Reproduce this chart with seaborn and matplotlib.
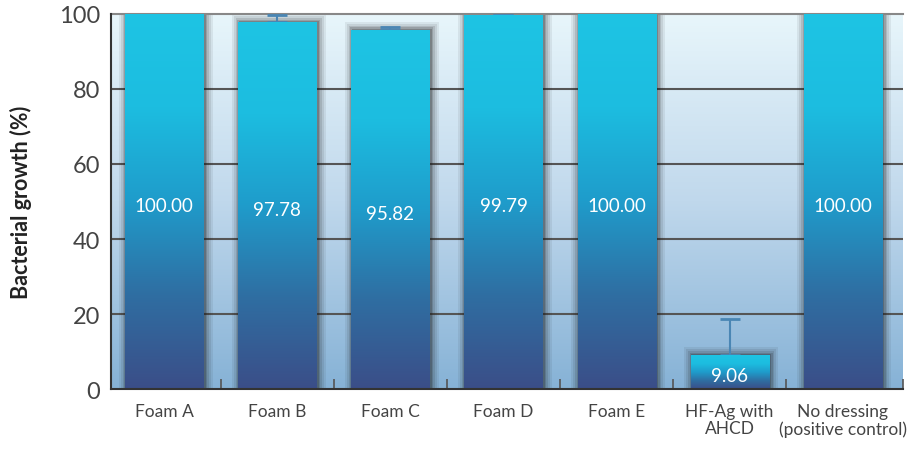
import numpy as np
import pandas as pd
import matplotlib
matplotlib.use("Agg")
import matplotlib.pyplot as plt
import seaborn as sns
from matplotlib.colors import LinearSegmentedColormap
from matplotlib.patches import Rectangle

categories = ["Foam A", "Foam B", "Foam C", "Foam D", "Foam E",
              "HF-Ag with\nAHCD", "No dressing\n(positive control)"]
values = [100.00, 97.78, 95.82, 99.79, 100.00, 9.06, 100.00]
errors = [0.0, 2.0, 0.8, 0.2, 0.0, 9.6, 0.0]
value_labels = ["100.00", "97.78", "95.82", "99.79", "100.00", "9.06", "100.00"]
yticks = [0, 20, 40, 60, 80, 100]
gridlevels = [20, 40, 60, 80]

sns.set_theme(style="white")
plt.rcParams['font.family'] = ['Lato', 'DejaVu Sans']

df = pd.DataFrame({"cat": categories, "val": values})

fig = plt.figure(figsize=(9.10, 4.52), dpi=100)
ax = fig.add_axes([0.122, 0.137, 0.870, 0.830])

sns.barplot(data=df, x="cat", y="val", ax=ax, width=0.69, errorbar=None,
            color="#1ec4e4", zorder=3)

XL, XR = -0.47, 6.53
ax.set_xlim(XL, XR)
ax.set_ylim(0, 100)

# background gradient
bg = LinearSegmentedColormap.from_list("bg", ["#86b2d6", "#c0d8ec", "#e8f6fb"])
grad = np.linspace(0, 1, 256).reshape(-1, 1)
ax.imshow(grad, cmap=bg, origin="lower", aspect="auto", interpolation="bilinear",
          extent=[0, 1, 0, 1], transform=ax.transAxes, zorder=0)

# bar gradient + soft shadow
barcm = LinearSegmentedColormap.from_list(
    "bar", ["#3b4e88", "#2f6ea2", "#1f9ccb", "#1cbde0", "#1ec4e4"])
px_x = 7.0 / (0.870 * 910)   # one pixel in x data units
px_y = 100.0 / (0.830 * 452)  # one pixel in y data units
bars = []
for p in ax.patches:
    x0, y0 = p.get_x(), p.get_y()
    w, h = p.get_width(), p.get_height()
    bars.append((x0, x0 + w, h))
    sx = 1.5 * px_x
    for k, a in [(8, 0.07), (6, 0.09), (4, 0.12), (2.5, 0.16), (1, 0.22)]:
        ax.add_patch(Rectangle((x0 - k * px_x + sx, y0), w + 2 * k * px_x,
                               h + k * px_y, facecolor="#1a1a1a", alpha=a,
                               edgecolor="none", zorder=2.2))
    im = ax.imshow(grad, cmap=barcm, origin="lower", aspect="auto",
                   interpolation="bilinear",
                   extent=[x0, x0 + w, y0, y0 + h], zorder=3.5)
    im.set_clip_path(p)
    p.set_facecolor("none")
    p.set_edgecolor("none")

ax.set_xlim(XL, XR)
ax.set_ylim(0, 100)

# gridlines only where no bar covers them
for yv in gridlevels:
    edges = [XL]
    for (a, b, h) in bars:
        if h > yv:
            edges += [a, b]
    edges.append(XR)
    for i in range(0, len(edges), 2):
        ax.hlines(yv, edges[i], edges[i + 1], color="#555555", lw=1.5, zorder=2.0)

# error bars (upper only)
xs = np.arange(len(values))
mask = np.array(errors) > 0
ax.errorbar(xs[mask], np.array(values)[mask],
            yerr=[np.zeros(mask.sum()), np.array(errors)[mask]],
            fmt="none", ecolor="#4a86b4", elinewidth=1.5, capsize=7.5,
            capthick=2, zorder=2.6)

# value labels
for xi, v, lab in zip(xs, values, value_labels):
    ax.text(xi, v * 0.5 - 1, lab, ha="center", va="center", color="white",
            fontsize=13.5, zorder=5)

ax.set_yticks(yticks)
ax.set_yticklabels([str(t) for t in yticks], fontsize=17, color="#444444")
ax.set_xticks(xs)
ax.set_xticklabels(categories, fontsize=12.5, color="#444444", linespacing=1.1)
ax.set_xticks([XL] + list(np.arange(0.5, 6, 1)) + [XR], minor=True)
ax.tick_params(axis="x", which="major", length=0, pad=10)
ax.tick_params(axis="x", which="minor", direction="in", length=7,
               width=1.2, color="#555555", bottom=True)
ax.tick_params(axis="y", length=0, pad=8)

ax.set_xlabel("")
ax.set_ylabel("Bacterial growth (%)", fontsize=15.5, color="#222222",
              fontweight="bold", labelpad=19)

for s in ["left", "bottom"]:
    ax.spines[s].set_color("#333333")
    ax.spines[s].set_linewidth(1.5)
    ax.spines[s].set_zorder(6)
ax.spines["top"].set_color("#888888")
ax.spines["top"].set_linewidth(1.5)
ax.spines["right"].set_visible(False)

fig.savefig("out.png", dpi=100)
